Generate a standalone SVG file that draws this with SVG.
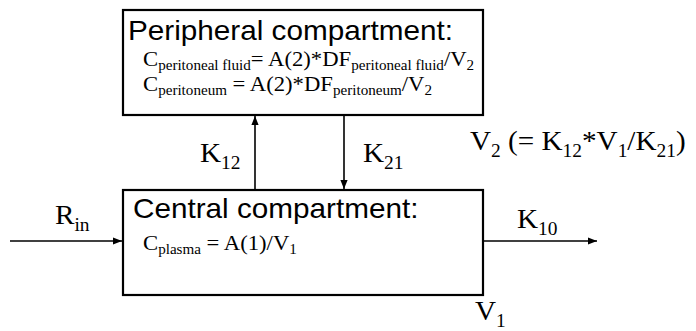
<svg xmlns="http://www.w3.org/2000/svg" width="696" height="331" viewBox="0 0 696 331">
  <style>
    .box { fill: #ffffff; stroke: #000000; stroke-width: 2.2; }
    .line { stroke: #000000; stroke-width: 1.6; fill: none; }
    .title { font-family: "Liberation Sans", Arial, sans-serif; font-size: 27px; fill: #000000; }
    .math { font-family: "Liberation Serif", "Times New Roman", serif; fill: #000000; }
    .f { font-size: 21px; }
    .lbl { font-size: 27px; }
    .sf { font-size: 14px; }
    .sl { font-size: 18px; }
  </style>
  <defs>
    <marker id="arrow" viewBox="0 0 10 10" refX="10" refY="5" markerWidth="9" markerHeight="9" markerUnits="userSpaceOnUse" orient="auto">
      <path d="M0,1 L10,5 L0,9 z" fill="#000000"/>
    </marker>
  </defs>

  <rect width="696" height="331" fill="#ffffff"/>

  <!-- connectors -->
  <g id="connectors">
    <line class="line" x1="255" y1="190" x2="255" y2="116" marker-end="url(#arrow)"/>
    <line class="line" x1="344" y1="115" x2="344" y2="189" marker-end="url(#arrow)"/>
    <line class="line" x1="10" y1="241" x2="122" y2="241" marker-end="url(#arrow)"/>
    <line class="line" x1="484" y1="241" x2="597" y2="241" marker-end="url(#arrow)"/>
  </g>

  <!-- peripheral compartment -->
  <g id="peripheral">
    <rect class="box" x="123" y="10" width="360" height="105"/>
    <text class="title" transform="translate(128,40) scale(1.1,1)">Peripheral compartment:</text>
    <text class="math f" transform="translate(143,66) scale(1.08,1)">C<tspan class="sf" dy="4">peritoneal fluid</tspan><tspan dy="-4">= A(2)*DF</tspan><tspan class="sf" dy="4">peritoneal fluid</tspan><tspan dy="-4">/V</tspan><tspan class="sf" dy="4">2</tspan></text>
    <text class="math f" transform="translate(143,91) scale(1.08,1)">C<tspan class="sf" dy="4">peritoneum</tspan><tspan dy="-4"> = A(2)*DF</tspan><tspan class="sf" dy="4">peritoneum</tspan><tspan dy="-4">/V</tspan><tspan class="sf" dy="4">2</tspan></text>
  </g>

  <!-- central compartment -->
  <g id="central">
    <rect class="box" x="123" y="190" width="360" height="105"/>
    <text class="title" transform="translate(133,218) scale(1.1,1)">Central compartment:</text>
    <text class="math f" transform="translate(143,250) scale(1.08,1)">C<tspan class="sf" dy="4">plasma</tspan><tspan dy="-4"> = A(1)/V</tspan><tspan class="sf" dy="4">1</tspan></text>
  </g>

  <!-- rate and volume labels -->
  <g id="labels">
    <text id="k12" class="math lbl" transform="translate(200,162) scale(1.08,1)">K<tspan class="sl" dy="7">12</tspan></text>
    <text id="k21" class="math lbl" transform="translate(363,162) scale(1.08,1)">K<tspan class="sl" dy="7">21</tspan></text>
    <text id="v2" class="math lbl" transform="translate(470,150) scale(1.08,1)">V<tspan class="sl" dy="7">2</tspan><tspan dy="-7"> (= K</tspan><tspan class="sl" dy="7">12</tspan><tspan dy="-7">*V</tspan><tspan class="sl" dy="7">1</tspan><tspan dy="-7">/K</tspan><tspan class="sl" dy="7">21</tspan><tspan dy="-7">)</tspan></text>
    <text id="rin" class="math lbl" transform="translate(55,224) scale(1.08,1)">R<tspan class="sl" dy="7">in</tspan></text>
    <text id="k10" class="math lbl" transform="translate(517,228) scale(1.08,1)">K<tspan class="sl" dy="7">10</tspan></text>
    <text id="v1" class="math lbl" transform="translate(475,320) scale(1.08,1)">V<tspan class="sl" dy="7">1</tspan></text>
  </g>
</svg>
